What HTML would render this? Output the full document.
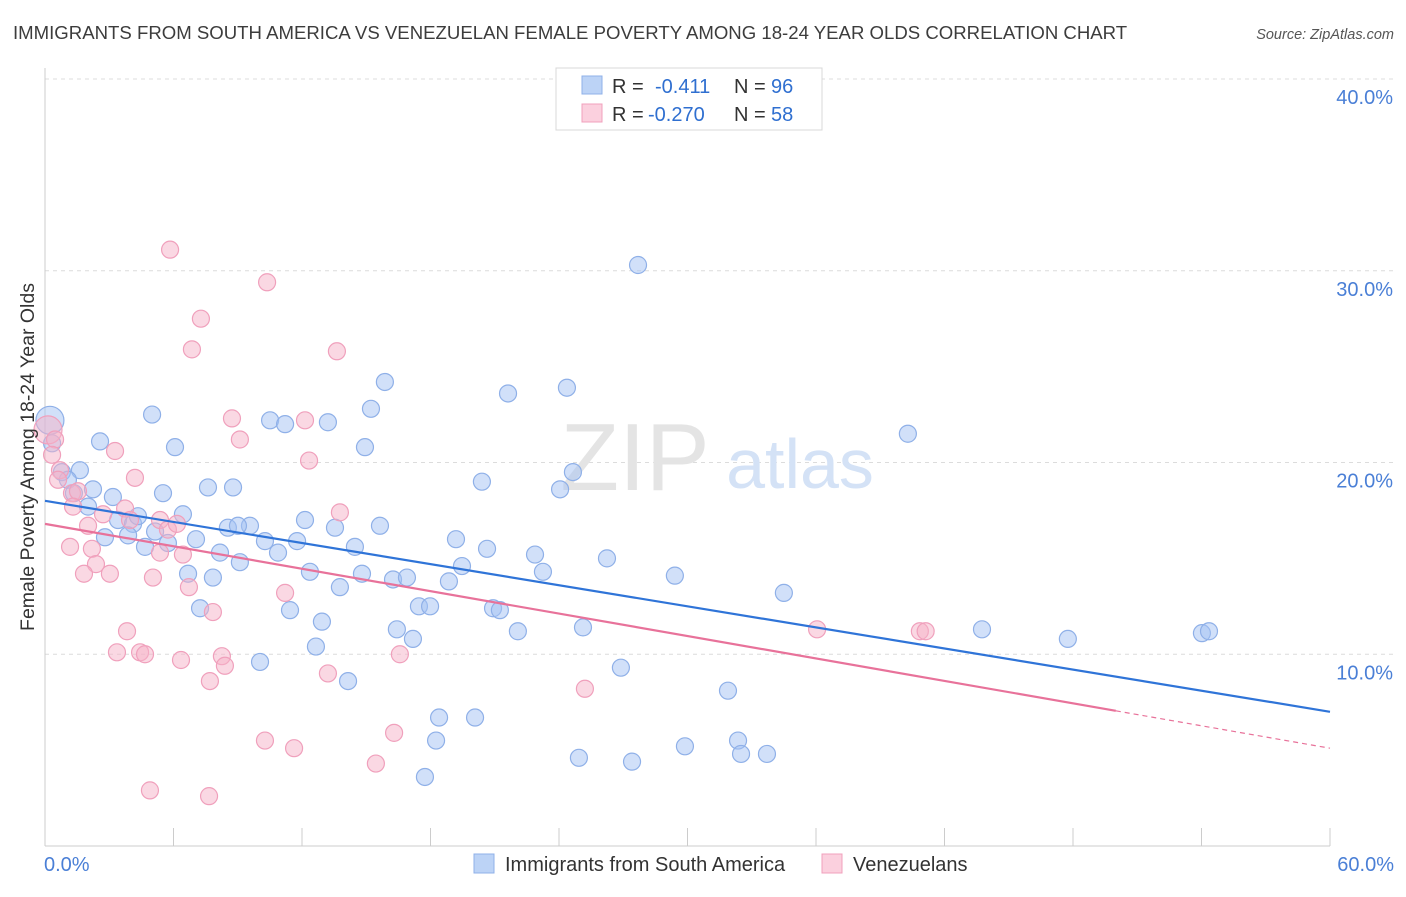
<!DOCTYPE html>
<html><head><meta charset="utf-8"><style>
body{margin:0;background:#fff;font-family:"Liberation Sans",sans-serif;}
svg text{font-family:"Liberation Sans",sans-serif;}
</style></head><body>
<svg id="chart" width="1406" height="892" viewBox="0 0 1406 892" xmlns="http://www.w3.org/2000/svg">
<text x="13" y="39" font-size="18.6" fill="#3c3c3c">IMMIGRANTS FROM SOUTH AMERICA VS VENEZUELAN FEMALE POVERTY AMONG 18-24 YEAR OLDS CORRELATION CHART</text>
<text x="1394" y="39" font-size="14.5" fill="#555" font-style="italic" text-anchor="end">Source: ZipAtlas.com</text>
<g id="grid"></g>
<g>
<text x="635" y="490" font-size="96" font-family="Liberation Serif" fill="#e4e4e4" text-anchor="middle">ZIP</text>
<text x="800" y="488" font-size="70" fill="#d4e2f6" text-anchor="middle">atlas</text>
</g>
<g id="axes"></g>
<g id="pts"></g>
<g id="trends"></g>
<text transform="translate(34,457) rotate(-90)" font-size="19.5" fill="#333" text-anchor="middle">Female Poverty Among 18-24 Year Olds</text>
<g>
<rect x="556" y="68" width="266" height="62" fill="#fff" stroke="#d8d8d8"/>
<rect x="582" y="76" width="20" height="18" fill="#bcd3f6" stroke="#8fb0e8"/>
<text x="612" y="93" font-size="20" fill="#333">R =</text>
<text x="655" y="93" font-size="20" fill="#2f6fd0">-0.411</text>
<text x="734" y="93" font-size="20" fill="#333">N =</text>
<text x="771" y="93" font-size="20" fill="#2f6fd0">96</text>
<rect x="582" y="104" width="20" height="18" fill="#fbd0de" stroke="#f0a0bc"/>
<text x="612" y="121" font-size="20" fill="#333">R =</text>
<text x="648" y="121" font-size="20" fill="#2f6fd0">-0.270</text>
<text x="734" y="121" font-size="20" fill="#333">N =</text>
<text x="771" y="121" font-size="20" fill="#2f6fd0">58</text>
</g>
<g>
<rect x="474" y="854" width="20" height="19" fill="#bcd3f6" stroke="#8fb0e8"/>
<text x="505" y="871" font-size="20" fill="#333">Immigrants from South America</text>
<rect x="822" y="854" width="20" height="19" fill="#fbd0de" stroke="#f0a0bc"/>
<text x="853" y="871" font-size="20" fill="#333">Venezuelans</text>
</g>
</svg>
<script>
const xTicks=[0,6,12,18,24,30,36,42,48,54,60];
const yTicks=[10,20,30,40];
const blueX=[0.23,0.33,2.57,0.79,1.63,1.07,1.35,2.24,2.01,3.17,5.0,6.07,5.51,7.61,8.78,3.41,4.11,4.34,2.80,3.88,5.14,4.67,5.74,6.44,7.05,8.54,9.57,9.01,10.27,10.88,11.77,12.14,10.51,11.21,13.21,15.22,15.87,14.94,13.54,14.47,15.64,12.37,13.77,14.80,16.25,16.90,6.68,7.84,8.17,9.10,7.24,11.44,12.93,12.65,10.04,14.15,16.43,17.18,17.46,17.98,18.86,19.19,19.47,20.64,20.40,21.62,24.37,24.65,24.05,22.88,23.25,26.24,20.92,21.24,22.08,25.12,26.89,27.69,29.41,34.50,31.89,18.40,20.08,18.26,17.74,24.93,27.41,29.88,32.36,32.50,33.71,40.29,43.75,47.76,54.02,54.35];
const blueY=[22.2,21.0,21.1,19.5,19.6,19.1,18.4,18.6,17.7,18.2,22.5,20.8,18.4,18.7,18.7,17.0,16.8,17.2,16.1,16.2,16.4,15.6,15.8,17.3,16.0,16.6,16.7,16.7,15.9,15.3,15.9,17.0,22.2,22.0,22.1,22.8,24.2,20.8,16.6,15.6,16.7,14.3,13.5,14.2,13.9,14.0,14.2,14.0,15.3,14.8,12.4,12.3,11.7,10.4,9.6,8.6,11.3,10.8,12.5,12.5,13.8,16.0,14.6,15.5,19.0,23.6,23.9,19.5,18.6,15.2,14.3,15.0,12.4,12.3,11.2,11.4,9.3,30.3,14.1,13.2,8.1,6.7,6.7,5.5,3.6,4.6,4.4,5.2,5.5,4.8,4.8,21.5,11.3,10.8,11.1,11.2];
const pinkX=[0.14,0.47,0.33,0.70,1.26,1.54,0.61,1.31,2.01,2.71,3.74,4.20,3.27,3.97,1.17,2.19,2.38,1.82,3.03,5.37,5.74,6.16,5.37,6.44,5.04,6.72,7.84,3.83,3.36,4.44,4.67,6.35,8.26,8.40,7.70,5.84,7.28,6.86,10.37,13.63,8.73,9.10,12.14,12.33,13.77,11.21,13.21,16.57,25.21,10.27,11.63,16.30,15.45,4.90,7.66,36.05,40.85,41.12];
const pinkY=[21.7,21.2,20.4,19.6,18.4,18.5,19.1,17.7,16.7,17.3,17.6,19.2,20.6,17.0,15.6,15.5,14.7,14.2,14.2,17.0,16.5,16.8,15.3,15.2,14.0,13.5,12.2,11.2,10.1,10.1,10.0,9.7,9.9,9.4,8.6,31.1,27.5,25.9,29.4,25.8,22.3,21.2,22.2,20.1,17.4,13.2,9.0,10.0,8.2,5.5,5.1,5.9,4.3,2.9,2.6,11.3,11.2,11.2];
const blueTrend=[18.0,7.0];
const pinkTrend=[16.8,5.1];
const pinkSolidEnd=50;

const X0=45,X1=1330,YB=846,YT=79;
const sx=v=>X0+(X1-X0)*v/60;
const sy=v=>YB-(YB-YT)*v/40;
const NS='http://www.w3.org/2000/svg';
function mk(parent,tag,attrs){const e=document.createElementNS(NS,tag);for(const k in attrs)e.setAttribute(k,attrs[k]);document.getElementById(parent).appendChild(e);return e;}

yTicks.forEach(t=>{
  const l=mk('grid','line',{x1:X0,x2:1394,y1:sy(t),y2:sy(t),stroke:'#dcdcdc','stroke-dasharray':'4,4'});
  
  
  const tx=mk('axes','text',{x:1393,y:sy(t)+25,'font-size':20,fill:'#4a7fd6','text-anchor':'end'});
  tx.textContent=t.toFixed(1)+'%';
  
  
});
const ax=mk('axes','line',{x1:X0,x2:X0,y1:68,y2:YB,stroke:'#ccc'});


const bx=mk('axes','line',{x1:X0,x2:X1,y1:YB,y2:YB,stroke:'#ccc'});


xTicks.forEach(t=>{
  const l=mk('axes','line',{x1:sx(t),x2:sx(t),y1:828,y2:YB,stroke:'#ccc'});
  
  
});
[[0,'0.0%','start',44],[60,'60.0%','end',1394]].forEach(d=>{
  const tx=mk('axes','text',{x:d[3],y:871,'font-size':20,fill:'#4a7fd6','text-anchor':d[2]});
  tx.textContent=d[1];
  
  
});
function dots(xs,ys,fill,stroke,name){
  xs.forEach((x,i)=>{
    const r=(i===0)?14:8.5;
    const c=mk('pts','circle',{cx:sx(x),cy:sy(ys[i]),r:r,fill:fill,stroke:stroke,'stroke-width':1.2});
    
    
  });
}
dots(blueX,blueY,'rgba(164,194,244,0.5)','#8fb0e8','point-immigrants');
dots(pinkX,pinkY,'rgba(246,178,200,0.5)','#f0a0bc','point-venezuelans');
const pAt=x=>pinkTrend[0]+(pinkTrend[1]-pinkTrend[0])*x/60;
const bl=mk('trends','line',{x1:sx(0),y1:sy(blueTrend[0]),x2:sx(60),y2:sy(blueTrend[1]),stroke:'#2f74d8','stroke-width':2.2});


const pl=mk('trends','line',{x1:sx(0),y1:sy(pinkTrend[0]),x2:sx(pinkSolidEnd),y2:sy(pAt(pinkSolidEnd)),stroke:'#e8729a','stroke-width':2.2});


const pd=mk('trends','line',{x1:sx(pinkSolidEnd),y1:sy(pAt(pinkSolidEnd)),x2:sx(60),y2:sy(pinkTrend[1]),stroke:'#e8729a','stroke-width':1.2,'stroke-dasharray':'5,4'});


</script>
</body></html>
